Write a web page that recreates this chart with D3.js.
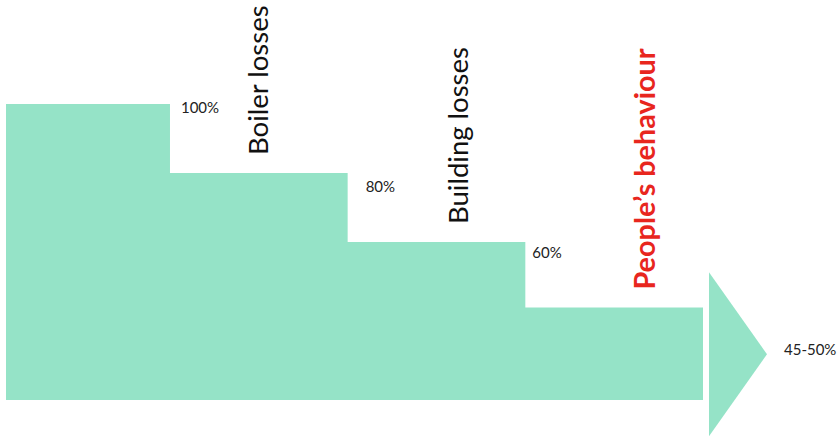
<!DOCTYPE html>
<html>
<head>
<meta charset="utf-8">
<script src="https://cdn.jsdelivr.net/npm/d3@7"></script>
<style>
  html, body { margin: 0; padding: 0; background: #fff; }
  svg { display: block; }
</style>
</head>
<body>
<svg id="chart" width="840" height="438"></svg>
<script>
// ---- data ----
const stages = ["Input", "Boiler losses", "Building losses", "People\u2019s behaviour"];
const levels = [100, 80, 60, 41];            // remaining energy shown by each step
const levelLabels = ["100%", "80%", "60%", "45-50%"];
const highlight = [false, false, false, true];

// ---- layout / style ----
const fill = "#95E3C7";
const left = 6, bottom = 400;
const svg = d3.select("#chart");

const y = d3.scaleLinear().domain([14.2, 100]).range([bottom, 104]);
const x = d3.scaleLinear().domain([0, 4]).range([-7.7, 703]);

// staircase as a single area (no seams)
const pts = levels.map((v, i) => ({ xp: Math.max(left, x(i)), v }));
pts.push({ xp: x(levels.length), v: levels[levels.length - 1] });
const area = d3.area()
  .x(d => d.xp)
  .y0(bottom)
  .y1(d => y(d.v))
  .curve(d3.curveStepAfter);
svg.append("path").datum(pts).attr("d", area).attr("fill", fill);

// arrow head
const last = levels[levels.length - 1];
const ax = x(4) + 6, acy = (y(last) + bottom) / 2 + 0.5, ahalf = 82, alen = 58;
svg.append("path")
  .attr("d", `M${ax},${acy - ahalf} L${ax + alen},${acy} L${ax},${acy + ahalf} Z`)
  .attr("fill", fill);

// percentage labels
const pctDx = [11, 18, 7], pctDy = [9, 19, 16];
levelLabels.slice(0, 3).forEach((t, i) => {
  svg.append("text")
    .attr("x", x(i + 1) + pctDx[i])
    .attr("y", y(levels[i]) + pctDy[i])
    .attr("font-family", "Lato, 'Open Sans', sans-serif")
    .attr("font-size", 15)
    .attr("fill", "#222")
    .text(t);
});
svg.append("text")
  .attr("x", ax + alen + 17)
  .attr("y", acy - 5)
  .attr("dominant-baseline", "central")
  .attr("font-family", "Lato, 'Open Sans', sans-serif")
  .attr("font-size", 15)
  .attr("fill", "#222")
  .text(levelLabels[3]);

// stage labels (rotated)
const labelShift = [0.55, 0.68, 0.73];
stages.slice(1).forEach((s, k) => {
  const i = k + 1;
  const bx = x(i + labelShift[k]);
  const by = y(levels[i]) - 18;
  svg.append("text")
    .attr("transform", `translate(${bx},${by}) rotate(-90)`)
    .attr("font-family", "Lato, 'Open Sans', sans-serif")
    .attr("font-size", highlight[i] ? 28.8 : 27.5)
    .attr("font-weight", highlight[i] ? "bold" : "normal")
    .attr("fill", highlight[i] ? "#E8261E" : "#111")
    .text(s);
});
</script>
</body>
</html>
